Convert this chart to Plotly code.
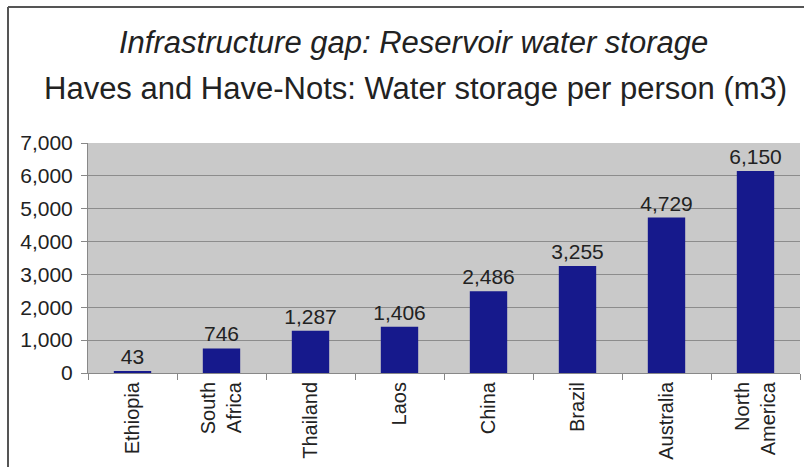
import plotly.graph_objects as go

categories = ["Ethiopia", "South<br>Africa", "Thailand", "Laos", "China", "Brazil", "Australia", "North<br>America"]
values = [43, 746, 1287, 1406, 2486, 3255, 4729, 6150]
y_ticks = [0, 1000, 2000, 3000, 4000, 5000, 6000, 7000]
title1 = "Infrastructure gap: Reservoir water storage"
title2 = "Haves and Have-Nots: Water storage per person (m3)"

FONT = "Liberation Sans, Arial, sans-serif"

fig = go.Figure(go.Bar(
    x=categories, y=values,
    marker=dict(color="#16198c", line=dict(width=0)),
    texttemplate="%{y:,}", textposition="outside", cliponaxis=False,
    constraintext="none",
    textfont=dict(size=21, color="#222222", family=FONT),
    width=0.42,
))

W, H = 804, 467
L, R, T, B = 88, 4, 143, 94
pw, ph = W - L - R, H - T - B

def px(x):
    return (x - L) / pw

def py(y):
    return 1 + (T - y) / ph

fig.update_layout(
    width=W, height=H,
    margin=dict(l=L, r=R, t=T, b=B),
    paper_bgcolor="white", plot_bgcolor="#c9c9c9",
    showlegend=False,
    font=dict(family=FONT, color="#222222"),
    xaxis=dict(
        tickangle=-90, tickfont=dict(size=20, color="#222222"),
        ticks="outside", tickson="boundaries", ticklen=6, tickcolor="#888888",
        showline=True, linecolor="#888888", linewidth=1, showgrid=False,
    ),
    yaxis=dict(
        range=[0, 7000], tickvals=y_ticks, tickformat=",",
        tickfont=dict(size=21, color="#222222"), ticklabelstandoff=4,
        ticks="outside", ticklen=6, tickcolor="#888888",
        showline=True, linecolor="#888888", linewidth=1,
        gridcolor="#8c8c8c", gridwidth=1, zeroline=False,
    ),
    annotations=[
        dict(text="<i>" + title1 + "</i>", x=px(413), y=py(42), xref="paper", yref="paper",
             showarrow=False, font=dict(size=31, color="#222222", family=FONT), xanchor="center", yanchor="middle"),
        dict(text=title2, x=px(415), y=py(88), xref="paper", yref="paper",
             showarrow=False, font=dict(size=31, color="#222222", family=FONT), xanchor="center", yanchor="middle"),
    ],
    shapes=[
        dict(type="line", xref="paper", yref="paper", x0=px(8), x1=px(804), y0=py(7), y1=py(7),
             line=dict(color="#555555", width=2)),
        dict(type="line", xref="paper", yref="paper", x0=px(8), x1=px(8), y0=py(7), y1=py(467),
             line=dict(color="#555555", width=2)),
    ],
)

fig.write_html("out.html")
